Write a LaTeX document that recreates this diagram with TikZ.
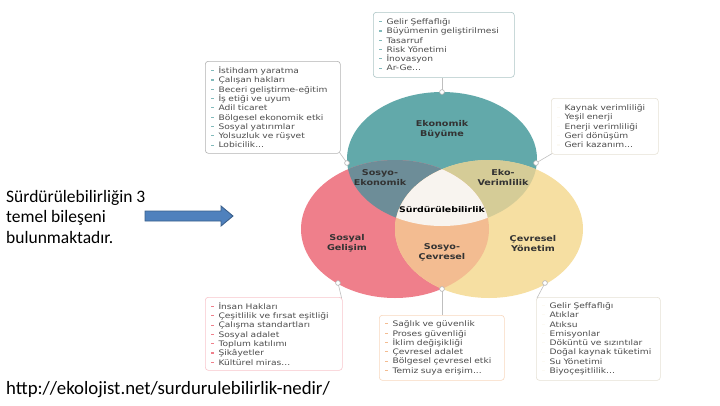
\documentclass[tikz,border=0pt]{standalone}
\usepackage{fontspec}
\setmainfont{Carlito}
\newfontfamily\diagfont[FakeStretch=1.2]{DejaVu Sans}
\usetikzlibrary{positioning}

\definecolor{ekocol}{HTML}{62A9AA}
\definecolor{soscol}{HTML}{EF7F8B}
\definecolor{cevcol}{HTML}{F6DFA2}
\definecolor{sosekocol}{HTML}{6D8D98}
\definecolor{ekoverimcol}{HTML}{D5CC97}
\definecolor{soscevcol}{HTML}{F3BC91}
\definecolor{merkezcol}{HTML}{F8F4EF}
\definecolor{oklcol}{HTML}{4F81BD}
\definecolor{okkcol}{HTML}{3A5F8B}

\newcommand\bul{\textcolor{bulcol}{\rule[0.3em]{0.4em}{0.14em}}\hspace{0.55em}}

\tikzset{
  listbox/.style 2 args={draw=#1, rounded corners=3pt, fill=white, line width=0.6pt,
    anchor=north west, inner xsep=6pt, inner ysep=2pt, align=left,
    font=\diagfont\fontsize{7.6}{9.3}\selectfont, text=black!70,
    execute at begin node={\colorlet{bulcol}{#2}}},
  lbl/.style={font=\diagfont\bfseries\fontsize{8}{10}\selectfont, align=center, text=black!80},
  baglanti/.style={draw=black!25, line width=0.6pt},
  nokta/.style={fill=white, draw=black!30, line width=0.6pt}
}

\begin{document}
\begin{tikzpicture}[x=1pt, y=-1pt]
\useasboundingbox (0,0) rectangle (720,405);

% uc ana elips
\fill[ekocol] (442,159) ellipse [x radius=95pt, y radius=67pt];
\fill[soscol] (395,229) ellipse [x radius=94pt, y radius=69pt];
\fill[cevcol] (489,229) ellipse [x radius=94pt, y radius=69pt];

% kesisimler
\begin{scope}
  \clip (442,159) ellipse [x radius=95pt, y radius=67pt];
  \fill[sosekocol] (395,229) ellipse [x radius=94pt, y radius=69pt];
  \fill[ekoverimcol] (489,229) ellipse [x radius=94pt, y radius=69pt];
\end{scope}
\begin{scope}
  \clip (395,229) ellipse [x radius=94pt, y radius=69pt];
  \fill[soscevcol] (489,229) ellipse [x radius=94pt, y radius=69pt];
\end{scope}
\begin{scope}
  \clip (442,159) ellipse [x radius=95pt, y radius=67pt];
  \clip (395,229) ellipse [x radius=94pt, y radius=69pt];
  \fill[merkezcol] (489,229) ellipse [x radius=94pt, y radius=69pt];
\end{scope}

% etiketler
\node[lbl] (eko) at (442,129) {Ekonomik\\Büyüme};
\node[lbl] (soseko) at (380,178) {Sosyo-\\Ekonomik};
\node[lbl] (ekover) at (503,178) {Eko-\\Verimlilik};
\node[lbl, font=\diagfont\bfseries\fontsize{7.8}{10}\selectfont, text=black] (surd) at (442,210) {Sürdürülebilirlik};
\node[lbl] (sosyal) at (347,243) {Sosyal\\Gelişim};
\node[lbl] (soscev) at (442,252) {Sosyo-\\Çevresel};
\node[lbl] (cevre) at (533,244) {Çevresel\\Yönetim};

% listeler
\node[listbox={black!25!ekocol!45}{ekocol!80}, text width=129pt, minimum height=65pt] (ustkutu) at (373,12)
  {\bul Gelir Şeffaflığı\\\bul Büyümenin geliştirilmesi\\\bul Tasarruf\\\bul Risk Yönetimi\\\bul İnovasyon\\\bul Ar-Ge...};
\node[listbox={black!30}{ekocol!80}, text width=123pt, minimum height=92pt] (solustkutu) at (205,61)
  {\bul İstihdam yaratma\\\bul Çalışan hakları\\\bul Beceri geliştirme-eğitim\\\bul İş etiği ve uyum\\\bul Adil ticaret\\\bul Bölgesel ekonomik etki\\\bul Sosyal yatırımlar\\\bul Yolsuzluk ve rüşvet\\\bul Lobicilik...};
\node[listbox={cevcol!70!black!30}{cevcol!90!black!10}, text width=95pt, minimum height=56pt] (sagustkutu) at (551,98)
  {\bul Kaynak verimliliği\\\bul Yeşil enerji\\\bul Enerji verimliliği\\\bul Geri dönüşüm\\\bul Geri kazanım...};
\node[listbox={soscol!45}{soscol}, text width=125pt, minimum height=73pt] (solaltkutu) at (205,297)
  {\bul İnsan Hakları\\\bul Çeşitlilik ve fırsat eşitliği\\\bul Çalışma standartları\\\bul Sosyal adalet\\\bul Toplum katılımı\\\bul Şikâyetler\\\bul Kültürel miras...};
\node[listbox={soscevcol!60}{soscevcol}, text width=113pt, minimum height=65pt] (altkutu) at (379,315)
  {\bul Sağlık ve güvenlik\\\bul Proses güvenliği\\\bul İklim değişikliği\\\bul Çevresel adalet\\\bul Bölgesel çevresel etki\\\bul Temiz suya erişim...};
\node[listbox={cevcol!70!black!30}{cevcol!90!black!10}, text width=112pt, minimum height=83pt] (sagaltkutu) at (536,297)
  {\bul Gelir Şeffaflığı\\\bul Atıklar\\\bul Atıksu\\\bul Emisyonlar\\\bul Döküntü ve sızıntılar\\\bul Doğal kaynak tüketimi\\\bul Su Yönetimi\\\bul Biyoçeşitlilik...};

% baglanti noktalari
\coordinate (nust) at (442,92);
\coordinate (nsolust) at (347,163);
\coordinate (nsagust) at (536,163);
\coordinate (nsolalt) at (338,283);
\coordinate (nalt) at (442,289);
\coordinate (nsagalt) at (545,283);

\draw[baglanti] (nust) -- (nust |- ustkutu.south);
\draw[baglanti] (nsolust) -- ([shift={(-1,-1)}]solustkutu.south east);
\draw[baglanti] (nsagust) -- ([shift={(1,-1)}]sagustkutu.south west);
\draw[baglanti] (nsolalt) -- ([shift={(-1,1)}]solaltkutu.north east);
\draw[baglanti] (nalt) -- (nalt |- altkutu.north);
\draw[baglanti] (nsagalt) -- ([shift={(1,1)}]sagaltkutu.north west);
\foreach \n in {nust,nsolust,nsagust,nsolalt,nalt,nsagalt}
  \draw[nokta] (\n) circle (2.4pt);

% sol metin ve ok
\node[anchor=north west, inner sep=0pt, align=left, font=\fontsize{17.5}{20.5}\selectfont] (giris) at (6,190)
  {Sürdürülebilirliğin 3\\temel bileşeni\\bulunmaktadır.};
\filldraw[fill=oklcol, draw=okkcol, line width=0.9pt]
  (145,211) -- (221,211) -- (221,206) -- (233,216) -- (221,226) -- (221,221) -- (145,221) -- cycle;

\node[anchor=base west, inner sep=0pt, font=\fontsize{18.8}{20}\selectfont] (kaynak) at (6,394)
  {http://ekolojist.net/surdurulebilirlik-nedir/};
\end{tikzpicture}
\end{document}
